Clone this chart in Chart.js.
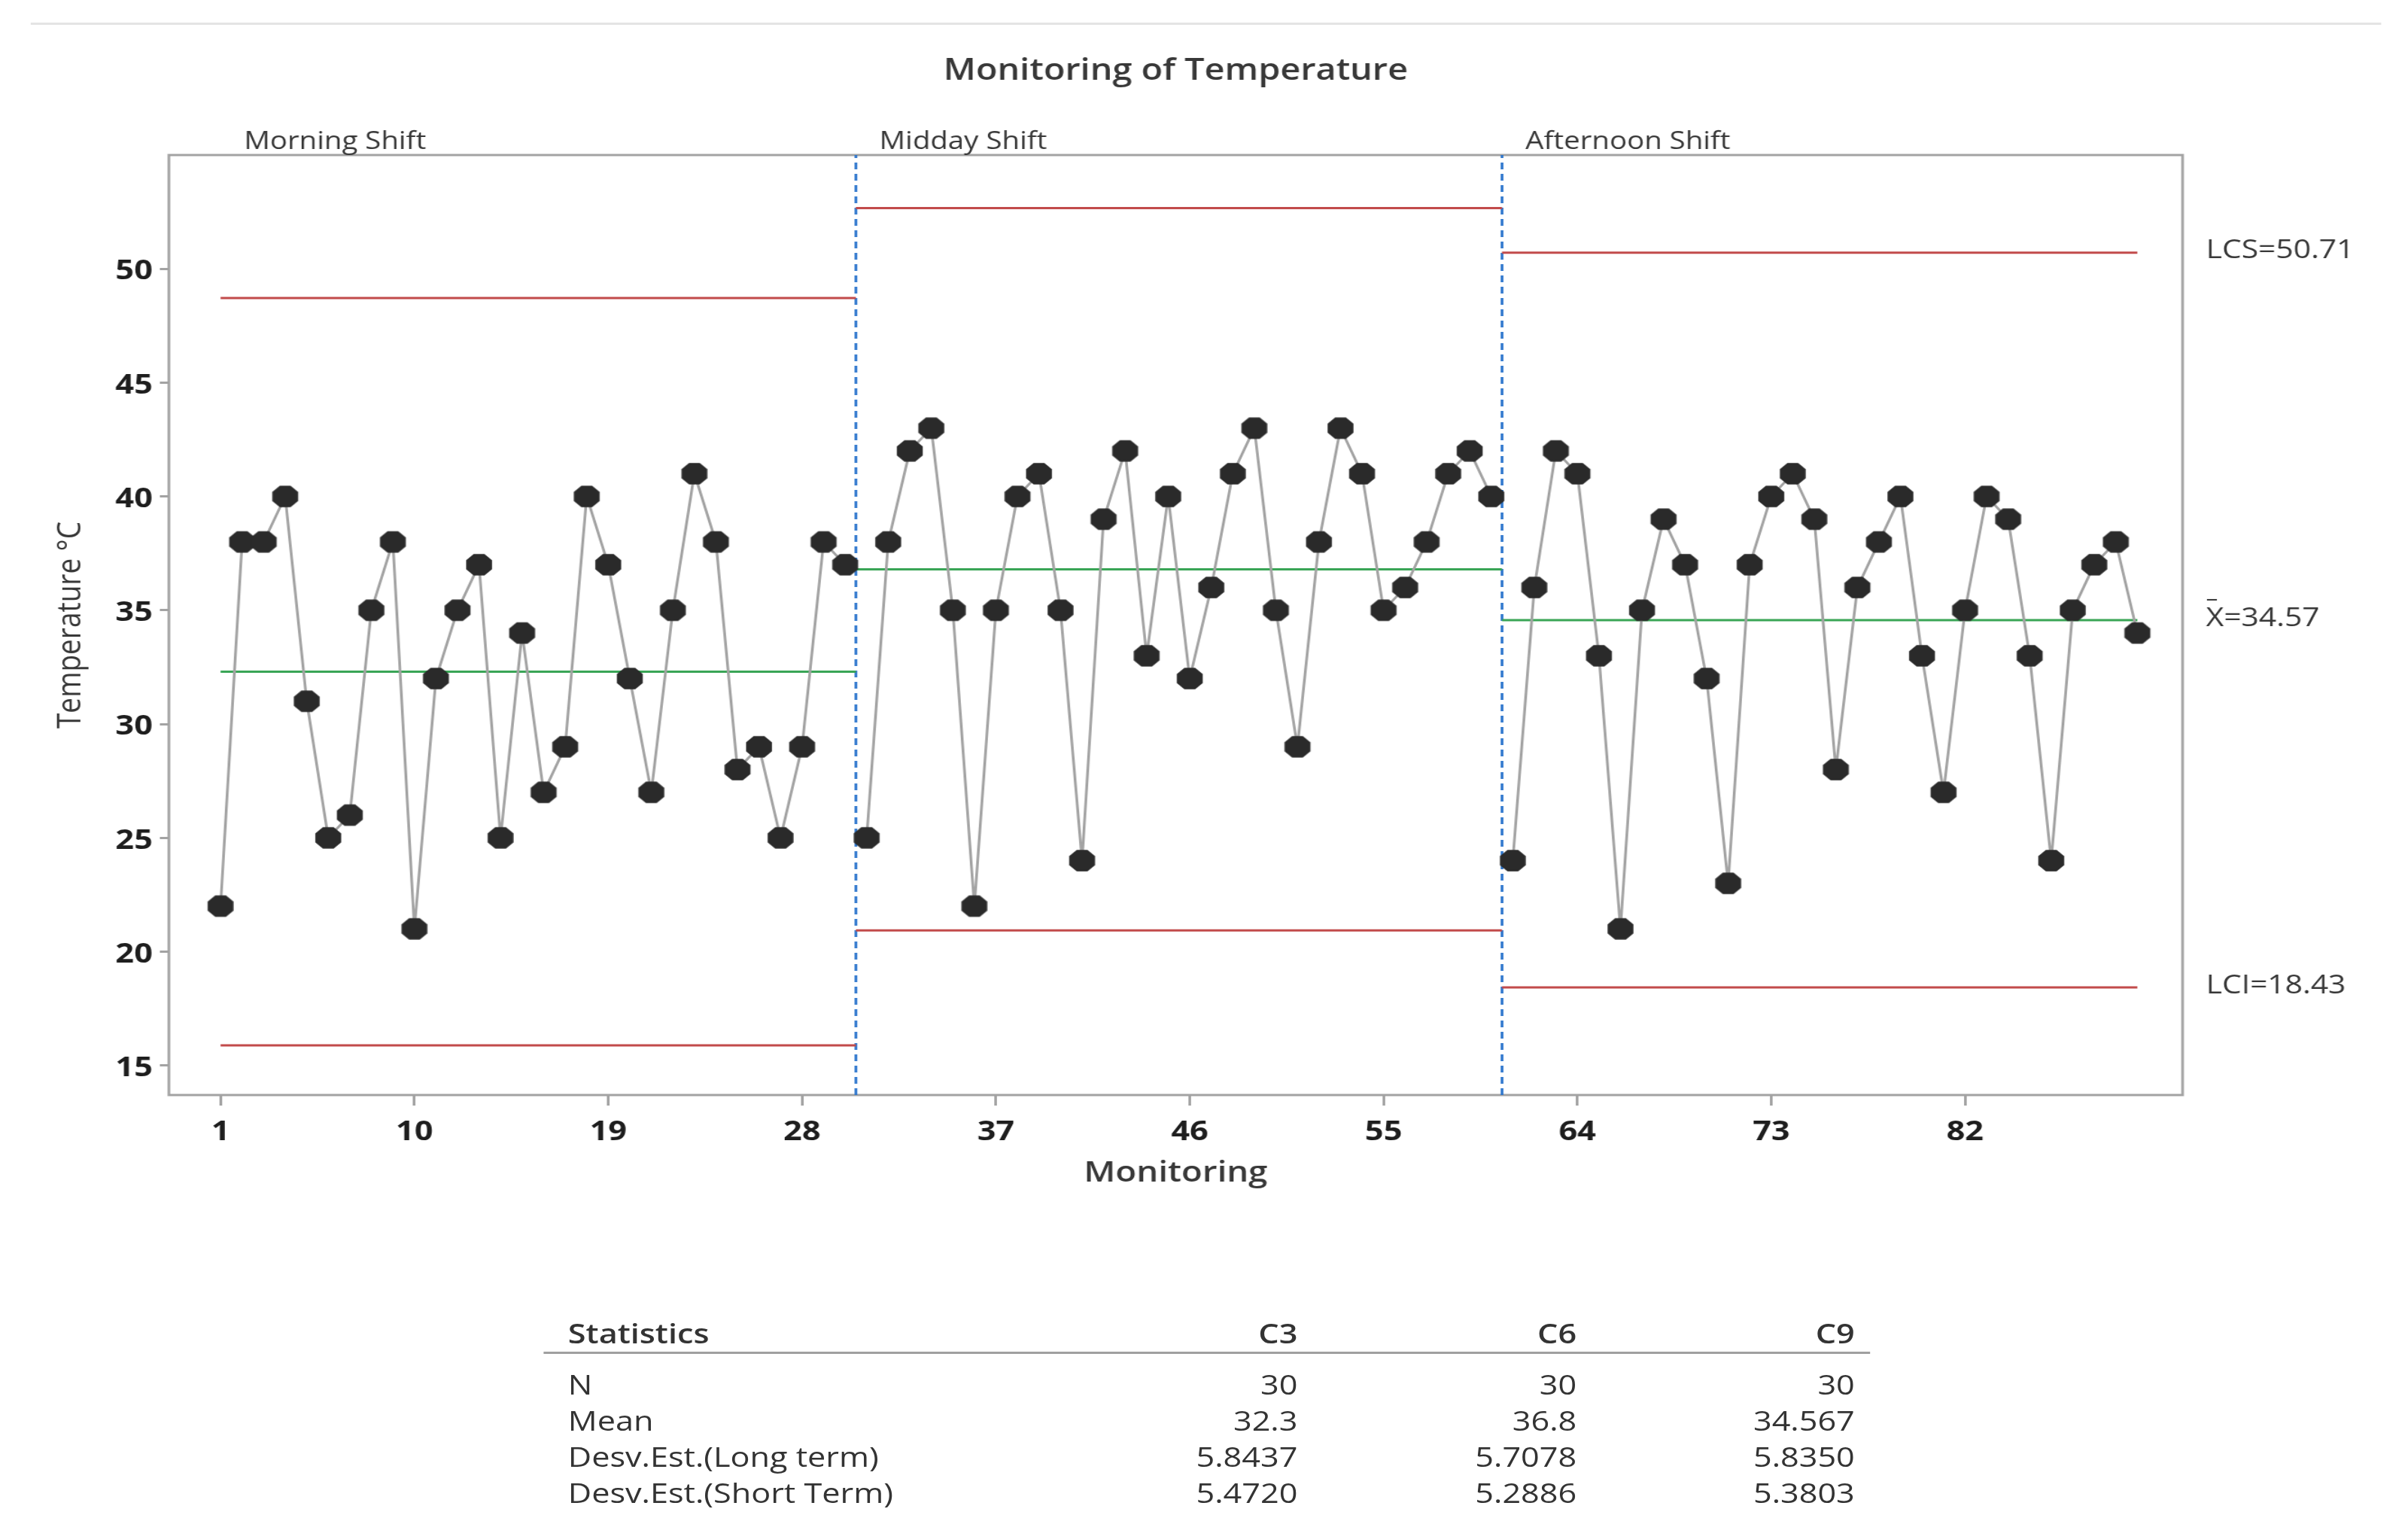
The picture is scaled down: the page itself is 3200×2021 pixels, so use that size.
<!DOCTYPE html>
<html>
<head>
<meta charset="utf-8">
<title>Monitoring of Temperature</title>
<script src="https://cdn.jsdelivr.net/npm/chart.js@4.4.1/dist/chart.umd.min.js"></script>
<style>
  html, body { margin: 0; padding: 0; background: #fff; overflow: hidden; }
  /* the reference is drawn a little wide, so the whole page is stretched */
  #page { position: absolute; left: 0; top: 0; width: 2667px; height: 2021px;
          transform: scaleX(1.2); transform-origin: 0 0;
          font-family: 'Open Sans', sans-serif; color: #333; }
  #chart { position: absolute; left: 0; top: 0; width: 2667px; height: 2021px; }
  .topline { position: absolute; left: 34px; top: 30px; width: 2603px; height: 3px; background: #e4e4e4; }
  .cell { position: absolute; height: 50px; line-height: 50px; font-size: 36px; white-space: nowrap; }
  .head { font-weight: 600; }
  .rule { position: absolute; height: 3px; background: #a0a0a0; }
</style>
</head>
<body>
<div id="page">
  <div class="topline"></div>
  <canvas id="chart" width="2667" height="2021"></canvas>
  <div id="stats"></div>
</div>
<script>
// observations per shift
const shiftNames = ['Morning Shift', 'Midday Shift', 'Afternoon Shift'];
const morningTemps = [22, 38, 38, 40, 31, 25, 26, 35, 38, 21, 32, 35, 37, 25, 34, 27, 29, 40, 37, 32, 27, 35, 41, 38, 28, 29, 25, 29, 38, 37];
const middayTemps = [25, 38, 42, 43, 35, 22, 35, 40, 41, 35, 24, 39, 42, 33, 40, 32, 36, 41, 43, 35, 29, 38, 43, 41, 35, 36, 38, 41, 42, 40];
const afternoonTemps = [24, 36, 42, 41, 33, 21, 35, 39, 37, 32, 23, 37, 40, 41, 39, 28, 36, 38, 40, 33, 27, 35, 40, 39, 33, 24, 35, 37, 38, 34];

// control limits per shift
const shiftMeans = [32.3, 36.8, 34.567];
const shiftUCL = [48.72, 52.67, 50.71];
const shiftLCL = [15.88, 20.93, 18.43];
const stageBreaks = [30.5, 60.5];

const xTickValues = [1, 10, 19, 28, 37, 46, 55, 64, 73, 82];
const yTickValues = [15, 20, 25, 30, 35, 40, 45, 50];
const xRange = [-1.4, 92.1];
const yRange = [13.7, 55];

const chartTitle = 'Monitoring of Temperature';
const xTitle = 'Monitoring';
const yTitle = 'Temperature °C';

// statistics table
const statHeader = ['Statistics', 'C3', 'C6', 'C9'];
const statLabels = ['N', 'Mean', 'Desv.Est.(Long term)', 'Desv.Est.(Short Term)'];
const statN = ['30', '30', '30'];
const statMean = ['32.3', '36.8', '34.567'];
const statLongSd = ['5.8437', '5.7078', '5.8350'];
const statShortSd = ['5.4720', '5.2886', '5.3803'];

const shiftTemps = [morningTemps, middayTemps, afternoonTemps];

function makeOctagon(r, color) {
  const c = document.createElement('canvas');
  const s = Math.ceil(r * 2) + 2;
  c.width = s; c.height = s;
  const g = c.getContext('2d');
  g.fillStyle = color;
  g.beginPath();
  for (let i = 0; i < 8; i++) {
    const a = Math.PI / 8 + i * Math.PI / 4;
    const px = s / 2 + r * Math.cos(a), py = s / 2 + r * Math.sin(a);
    if (i) g.lineTo(px, py); else g.moveTo(px, py);
  }
  g.closePath();
  g.fill();
  return c;
}
const marker = makeOctagon(15.5, '#2a2a2a');

// build datasets
const datasets = [];
let offset = 0;
const segStart = [], segEnd = [];
shiftTemps.forEach((temps, i) => {
  datasets.push({
    label: shiftNames[i],
    data: temps.map((v, j) => ({ x: offset + j + 1, y: v })),
    showLine: true,
    borderColor: '#a3a3a3',
    borderWidth: 3,
    pointStyle: marker,
    pointRadius: 15,
    pointHoverRadius: 15
  });
  segStart.push(i === 0 ? 1 : stageBreaks[i - 1]);
  offset += temps.length;
  segEnd.push(i < stageBreaks.length ? stageBreaks[i] : offset);
});

function hLine(vals, color) {
  return vals.map((v, i) => ({
    data: [{ x: segStart[i], y: v }, { x: segEnd[i], y: v }],
    showLine: true, borderColor: color, borderWidth: 3, pointRadius: 0
  }));
}
datasets.push(...hLine(shiftUCL, '#c24b4b'));
datasets.push(...hLine(shiftLCL, '#c24b4b'));
datasets.push(...hLine(shiftMeans, '#3aa556'));
stageBreaks.forEach(b => {
  datasets.push({
    data: [{ x: b, y: yRange[0] }, { x: b, y: yRange[1] }],
    showLine: true, borderColor: '#2b74cc', borderWidth: 3, borderDash: [9, 6], pointRadius: 0
  });
});

const chartText = {
  id: 'chartText',
  beforeDatasetsDraw(chart) {
    const { ctx, chartArea: a } = chart;
    ctx.save();
    ctx.strokeStyle = '#a3a3a3';
    ctx.lineWidth = 3;
    ctx.strokeRect(a.left, a.top, a.right - a.left, a.bottom - a.top);
    ctx.restore();
  },
  afterDraw(chart) {
    const { ctx, chartArea: a, scales: { x, y } } = chart;
    const mid = (a.left + a.right) / 2;
    ctx.save();
    ctx.fillStyle = '#383838';
    ctx.textBaseline = 'middle';
    ctx.textAlign = 'center';
    ctx.font = "600 39px 'Open Sans'";
    ctx.fillText(chartTitle, mid, 95);
    ctx.font = "600 38px 'Open Sans'";
    ctx.fillText(xTitle, mid, 1559);

    ctx.save();
    ctx.translate(78, (a.top + a.bottom) / 2);
    ctx.rotate(-Math.PI / 2);
    ctx.font = "37px 'Open Sans'";
    ctx.fillText(yTitle, 0, 0);
    ctx.restore();

    // shift names above the plot
    ctx.textAlign = 'left';
    ctx.textBaseline = 'alphabetic';
    ctx.font = "32px 'Open Sans'";
    const anchors = [1, ...stageBreaks];
    shiftNames.forEach((n, i) => ctx.fillText(n, x.getPixelForValue(anchors[i]) + 26, 198));

    // limits of the last stage on the right
    const last = shiftMeans.length - 1;
    const lx = a.right + 26;
    ctx.textBaseline = 'middle';
    ctx.font = "34px 'Open Sans'";
    ctx.fillText('LCS=' + shiftUCL[last].toFixed(2), lx, y.getPixelForValue(shiftUCL[last]) - 2);
    ctx.fillText('LCI=' + shiftLCL[last].toFixed(2), lx, y.getPixelForValue(shiftLCL[last]) - 2);
    const my = y.getPixelForValue(shiftMeans[last]) - 2;
    ctx.fillText('X=' + shiftMeans[last].toFixed(2), lx, my);
    ctx.strokeStyle = '#383838';
    ctx.lineWidth = 2;
    ctx.beginPath();
    ctx.moveTo(lx + 1, my - 25);
    ctx.lineTo(lx + 12, my - 25);
    ctx.stroke();
    ctx.restore();
  }
};

new Chart(document.getElementById('chart'), {
  type: 'scatter',
  data: { datasets },
  options: {
    responsive: false,
    animation: false,
    layout: { padding: { top: 206, right: 250, bottom: 0, left: 0 } },
    plugins: { legend: { display: false }, tooltip: { enabled: false } },
    scales: {
      x: {
        type: 'linear', min: xRange[0], max: xRange[1],
        afterFit: s => { s.height = 566; },
        afterBuildTicks: s => { s.ticks = xTickValues.map(v => ({ value: v })); },
        grid: { drawOnChartArea: false, tickLength: 14, color: '#a3a3a3', lineWidth: 3 },
        border: { display: false },
        ticks: { padding: 14, minRotation: 0, maxRotation: 0, autoSkip: false, color: '#1e1e1e',
                 font: { family: "'Open Sans'", size: 36, weight: 'bold' } }
      },
      y: {
        type: 'linear', min: yRange[0], max: yRange[1],
        afterFit: s => { s.width = 187; },
        afterBuildTicks: s => { s.ticks = yTickValues.map(v => ({ value: v })); },
        grid: { drawOnChartArea: false, tickLength: 10, color: '#a3a3a3', lineWidth: 3 },
        border: { display: false },
        ticks: { padding: 8, labelOffset: 4, color: '#1e1e1e', font: { family: "'Open Sans'", size: 36, weight: 'bold' } }
      }
    }
  },
  plugins: [chartText]
});

// statistics table under the chart
function renderStats() {
  const box = document.getElementById('stats');
  const labelLeft = 629, colRights = [1437, 1746, 2054], headY = 1772, rowY0 = 1840, rowStep = 48;
  const rows = [statN, statMean, statLongSd, statShortSd];
  let html = `<div class="cell head" style="left:${labelLeft}px; top:${headY - 25}px">${statHeader[0]}</div>`;
  statHeader.slice(1).forEach((h, c) => {
    html += `<div class="cell head" style="left:${colRights[c] - 300}px; width:300px; text-align:right; top:${headY - 25}px">${h}</div>`;
  });
  html += `<div class="rule" style="left:602px; width:1469px; top:1796px"></div>`;
  rows.forEach((vals, r) => {
    const cy = rowY0 + r * rowStep;
    html += `<div class="cell" style="left:${labelLeft}px; top:${cy - 25}px">${statLabels[r]}</div>`;
    vals.forEach((v, c) => {
      html += `<div class="cell" style="left:${colRights[c] - 300}px; width:300px; text-align:right; top:${cy - 25}px">${v}</div>`;
    });
  });
  box.innerHTML = html;
}
renderStats();
</script>
</body>
</html>
